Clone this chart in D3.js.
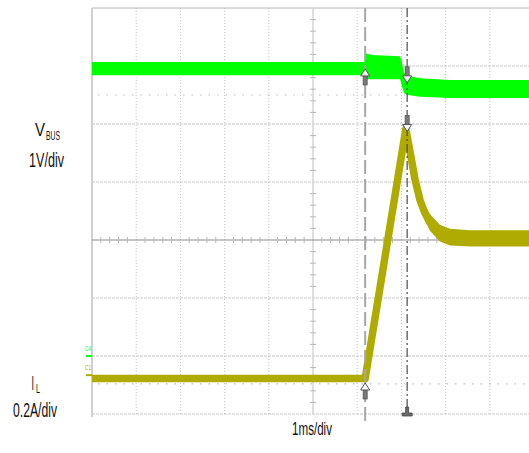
<!DOCTYPE html>
<html>
<head>
<meta charset="utf-8">
<script src="https://cdn.jsdelivr.net/npm/d3@7"></script>
<style>
  body { margin: 0; background: #fff; }
  svg { display: block; }
  text { font-family: "Liberation Sans Narrow", "Arial Narrow", "Liberation Sans", Arial, sans-serif; }
</style>
</head>
<body>
<div id="vis"></div>
<script>
const W = 529, H = 453;

// screen: 1 ms/div horizontally, visible vertical divisions -3..4 (centre line = 0)
const timeDivs = [0, 1, 2, 3, 4, 5, 6, 7, 8, 9, 10];
const vertDivs = [-3, -2, -1, 0, 1, 2, 3, 4];

// V_BUS (ch4, 1 V/div) - noisy band, upper and lower envelope in volts
const vbusTime = [0, 6.16, 6.19, 6.33, 6.97, 7.01, 7.06, 7.15, 7.42, 8.10, 10];
const vbusHigh = [5.07, 5.07, 5.22, 5.19, 5.17, 5.07, 4.88, 4.83, 4.79, 4.76, 4.76];
const vbusLow  = [4.84, 4.84, 4.77, 4.77, 4.77, 4.66, 4.53, 4.50, 4.47, 4.45, 4.45];

// I_L (ch1, 0.2 A/div) - centre value and noise half width in amps
const ilTime   = [0, 6.18, 7.10, 7.19, 7.31, 7.42, 7.53, 7.65, 7.87, 8.10, 8.55, 10];
const ilMid    = [-0.012, -0.012, 0.848, 0.776, 0.673, 0.604, 0.559, 0.526, 0.490, 0.476, 0.472, 0.472];
const ilSpread = [0, 0, 0, 0.003, 0.010, 0.018, 0.026, 0.029, 0.029, 0.029, 0.028, 0.028];

// channel settings
const ch4 = { perDiv: 1, offsetDiv: -2 };     // V_BUS
const ch1 = { perDiv: 0.2, offsetDiv: -2.33 }; // I_L

// cursors (ms) and the levels their markers point at
const cursorTimes = [6.18, 7.13];
const vbusAtCursor = [4.95, 4.71];
const ilAtCursor = [-0.027, 0.84];
const vbusRef = 4.5;
const ilRef = -0.03;

const GREEN = "#00ff00";
const YELLOW = "#b0ab00";

const x = d3.scaleLinear().domain([0, 10]).range([92, 534]);
const yDiv = d3.scaleLinear().domain([-3, 4]).range([414, 8]);
const yV = v => yDiv(v / ch4.perDiv + ch4.offsetDiv);
const yI = a => yDiv(a / ch1.perDiv + ch1.offsetDiv);

const svg = d3.select("#vis").append("svg")
    .attr("width", W).attr("height", H);

svg.append("rect").attr("width", W).attr("height", H).attr("fill", "#fff");

const grid = svg.append("g");

// vertical grid (dotted)
grid.selectAll(".vgrid")
    .data(timeDivs.filter(d => d > 0 && d !== 5))
    .join("line")
      .attr("x1", d => x(d)).attr("x2", d => x(d))
      .attr("y1", yDiv(4)).attr("y2", yDiv(-3))
      .attr("stroke", "#c4c4c4").attr("stroke-width", 1)
      .attr("stroke-dasharray", "1,2");

// horizontal grid (dashed)
grid.selectAll(".hgrid")
    .data(vertDivs.filter(d => d !== 0 && d !== 4))
    .join("line")
      .attr("x1", x(0)).attr("x2", W)
      .attr("y1", d => yDiv(d)).attr("y2", d => yDiv(d))
      .attr("stroke", "#c8c8c8").attr("stroke-width", 1.2)
      .attr("stroke-dasharray", "3,1");

// borders
grid.append("line")
    .attr("x1", x(0)).attr("x2", W).attr("y1", yDiv(4)).attr("y2", yDiv(4))
    .attr("stroke", "#b4b4b4").attr("stroke-width", 1);
grid.append("line")
    .attr("x1", x(0)).attr("x2", x(0)).attr("y1", yDiv(4)).attr("y2", yDiv(-3) + 3)
    .attr("stroke", "#d0d0d0").attr("stroke-width", 2);

// centre axes with minor ticks
grid.append("line")
    .attr("x1", x(5)).attr("x2", x(5)).attr("y1", yDiv(4)).attr("y2", yDiv(-3))
    .attr("stroke", "#d4d4d4").attr("stroke-width", 1.5);
grid.append("line")
    .attr("x1", x(0)).attr("x2", W).attr("y1", yDiv(0)).attr("y2", yDiv(0))
    .attr("stroke", "#8c8c8c").attr("stroke-width", 1);

const minorT = d3.range(1, 50).map(i => i / 5).filter(t => t % 1 !== 0);
grid.selectAll(".tickx")
    .data(minorT)
    .join("line")
      .attr("x1", d => x(d)).attr("x2", d => x(d))
      .attr("y1", yDiv(0) - 3).attr("y2", yDiv(0) + 3)
      .attr("stroke", "#b8b8b8").attr("stroke-width", 1);

const minorV = d3.range(-15, 20).map(i => i / 5).filter(v => v % 1 !== 0);
grid.selectAll(".ticky")
    .data(minorV)
    .join("line")
      .attr("x1", x(5) - 3).attr("x2", x(5) + 3)
      .attr("y1", d => yDiv(d)).attr("y2", d => yDiv(d))
      .attr("stroke", "#b8b8b8").attr("stroke-width", 1);

// reference dotted levels
grid.selectAll(".ref")
    .data([yV(vbusRef), yI(ilRef)])
    .join("line")
      .attr("x1", x(0) + 6).attr("x2", W)
      .attr("y1", d => d).attr("y2", d => d)
      .attr("stroke", "#bdbdbd").attr("stroke-width", 1.2)
      .attr("stroke-dasharray", "1.5,7");

// traces
const vbusRows = vbusTime.map((t, i) => ({ t, hi: vbusHigh[i], lo: vbusLow[i] }));
svg.append("path")
    .datum(vbusRows)
    .attr("fill", GREEN)
    .attr("d", d3.area().x(d => x(d.t)).y0(d => yV(d.lo)).y1(d => yV(d.hi)));

const ilRows = ilTime.map((t, i) => ({ t, mid: ilMid[i], s: ilSpread[i] }));
svg.append("path")
    .datum(ilRows)
    .attr("fill", YELLOW)
    .attr("d", d3.area().x(d => x(d.t)).y0(d => yI(d.mid - d.s)).y1(d => yI(d.mid + d.s)));
svg.append("path")
    .datum(ilRows)
    .attr("fill", "none")
    .attr("stroke", YELLOW)
    .attr("stroke-width", 7.5)
    .attr("stroke-linejoin", "round")
    .attr("d", d3.line().x(d => x(d.t)).y(d => yI(d.mid)));

// cursors
svg.append("line")
    .attr("x1", x(cursorTimes[0])).attr("x2", x(cursorTimes[0]))
    .attr("y1", yDiv(4)).attr("y2", yDiv(-3) + 12)
    .attr("stroke", "#a6a6a6").attr("stroke-width", 2)
    .attr("stroke-dasharray", "14,5");
svg.append("line")
    .attr("x1", x(cursorTimes[1])).attr("x2", x(cursorTimes[1]))
    .attr("y1", yDiv(4)).attr("y2", yDiv(-3))
    .attr("stroke", "#4a4a4a").attr("stroke-width", 1.2)
    .attr("stroke-dasharray", "9,3,2,3");

// cursor markers: hollow head + grey stem
function arrow(cx, tip, dir) {
  const g = svg.append("g");
  const s = dir; // 1 = points up, -1 = points down
  g.append("rect")
      .attr("x", cx - 2).attr("width", 4)
      .attr("y", s > 0 ? tip + 7 : tip - 16).attr("height", 9)
      .attr("fill", "#7a7a7a").attr("stroke", "#555").attr("stroke-width", 0.8);
  g.append("path")
      .attr("d", `M${cx},${tip} L${cx + 4.5},${tip + 7 * s} L${cx - 4.5},${tip + 7 * s} Z`)
      .attr("fill", "#fff").attr("stroke", "#555").attr("stroke-width", 1);
}
arrow(x(cursorTimes[0]), yV(vbusAtCursor[0]), 1);
arrow(x(cursorTimes[1]), yV(vbusAtCursor[1]), -1);
arrow(x(cursorTimes[1]), yI(ilAtCursor[1]), -1);
arrow(x(cursorTimes[0]), yI(ilAtCursor[0]), 1);

// bottom trigger-style marker on cursor 2
const bx = x(cursorTimes[1]), by = yDiv(-3);
svg.append("path")
    .attr("d", `M${bx - 1.5},${by - 7} L${bx + 1.5},${by - 7} L${bx + 1.5},${by - 1} L${bx + 5},${by - 1} L${bx + 5},${by + 2} L${bx - 5},${by + 2} L${bx - 5},${by - 1} L${bx - 1.5},${by - 1} Z`)
    .attr("fill", "#6a6a6a").attr("stroke", "#444").attr("stroke-width", 0.8);

// channel ground markers
const markers = [
  { label: "C4", y: yDiv(ch4.offsetDiv), color: GREEN },
  { label: "C1", y: yDiv(ch1.offsetDiv), color: YELLOW }
];
markers.forEach(m => {
  svg.append("line")
      .attr("x1", 86).attr("x2", 92).attr("y1", m.y).attr("y2", m.y)
      .attr("stroke", m.color).attr("stroke-width", 2);
  svg.append("text")
      .attr("x", 85).attr("y", m.y - 5)
      .attr("font-size", 8).attr("fill", m.color)
      .attr("textLength", 6).attr("lengthAdjust", "spacingAndGlyphs")
      .text(m.label);
});

// labels
function label(txt, lx, ly, size, len) {
  const t = svg.append("text")
      .attr("x", lx).attr("y", ly)
      .attr("font-size", size).attr("fill", "#111")
      .text(txt);
  if (len) t.attr("textLength", len).attr("lengthAdjust", "spacingAndGlyphs");
  return t;
}
label("V", 35, 136, 19, 10);
label("BUS", 46, 140, 13, 14);
label("1V/div", 29, 167, 21, 35);
label("I", 31.5, 390, 20, 2.5);
label("L", 36, 393, 12, 4);
label("0.2A/div", 13, 417, 20, 44);
label("1ms/div", 292, 435, 18.5, 40);
</script>
</body>
</html>
